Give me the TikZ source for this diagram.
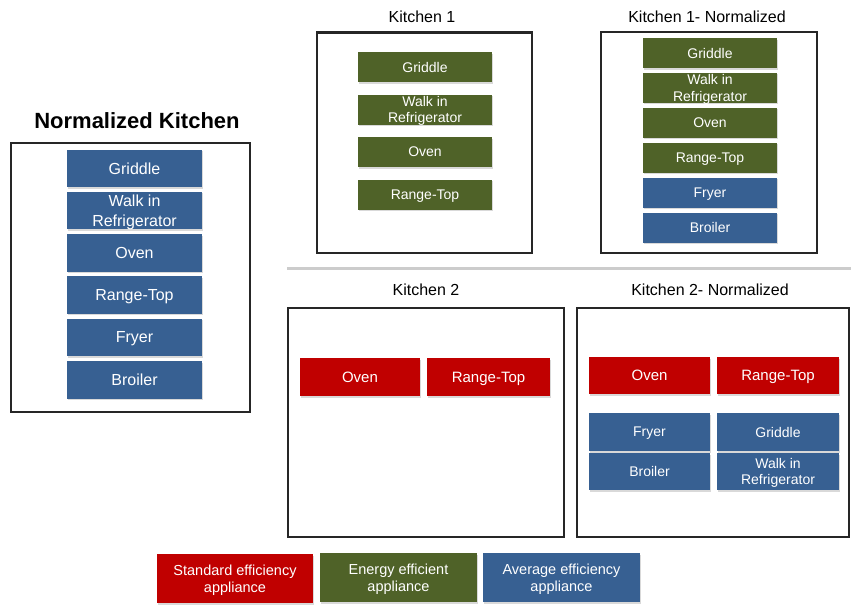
\documentclass[tikz,border=0pt]{standalone}
\usepackage{fontspec}
\setmainfont{Liberation Sans}
\usetikzlibrary{positioning, shadows}
\definecolor{stdred}{HTML}{C00000}
\definecolor{effgreen}{HTML}{4F6228}
\definecolor{avgblue}{HTML}{376092}
\definecolor{framegray}{HTML}{262626}

\begin{document}
\begin{tikzpicture}[
        x=1pt, y=-1pt,
        kitchen/.style = {rectangle, draw=framegray, line width=2.2pt, anchor=north west, inner sep=0pt, outer sep=0pt},
        appliance/.style = {rectangle, text=white, align=center, inner sep=0pt, outer sep=0pt, text depth=0pt, anchor=north west, font=\fontsize{14}{16.5}\selectfont, drop shadow={shadow xshift=1pt, shadow yshift=-1.5pt, opacity=0.3}},
        standard/.style = {appliance, fill=stdred, font=\fontsize{15}{17}\selectfont},
        efficient/.style = {appliance, fill=effgreen},
        average/.style = {appliance, fill=avgblue},
        heading/.style = {font=\fontsize{16}{19}\selectfont},
        sep_line/.style = {draw=black!20, line width=3pt}
    ]
    \useasboundingbox (0,0) rectangle (851,605);

    % Normalized kitchen (left)
    \node [font=\fontsize{22}{24}\selectfont\bfseries] (nk_title) at (137,121) {Normalized Kitchen};
    \node [kitchen, minimum width=239pt, minimum height=269pt] (nk) at (11,143) {};
    \node [average, minimum width=135pt, minimum height=37.5pt, font=\fontsize{16}{20}\selectfont] (nk_griddle) at (67,149.5) {Griddle};
    \node [average, minimum width=135pt, minimum height=37.5pt, font=\fontsize{16}{20}\selectfont, below=4.8pt of nk_griddle] (nk_walk) {Walk in\\Refrigerator};
    \node [average, minimum width=135pt, minimum height=37.5pt, font=\fontsize{16}{20}\selectfont, below=4.8pt of nk_walk] (nk_oven) {Oven};
    \node [average, minimum width=135pt, minimum height=37.5pt, font=\fontsize{16}{20}\selectfont, below=4.8pt of nk_oven] (nk_range) {Range-Top};
    \node [average, minimum width=135pt, minimum height=37.5pt, font=\fontsize{16}{20}\selectfont, below=4.8pt of nk_range] (nk_fryer) {Fryer};
    \node [average, minimum width=135pt, minimum height=37.5pt, font=\fontsize{16}{20}\selectfont, below=4.8pt of nk_fryer] (nk_broiler) {Broiler};

    % Kitchen 1
    \node [heading] (k1_title) at (422,17) {Kitchen 1};
    \node [kitchen, minimum width=215pt, minimum height=220.5pt] (k1) at (317,32.5) {};
    \node [efficient, minimum width=134pt, minimum height=30pt] (k1_griddle) at (358,52) {Griddle};
    \node [efficient, minimum width=134pt, minimum height=30pt, below=12.5pt of k1_griddle] (k1_walk) {Walk in\\Refrigerator};
    \node [efficient, minimum width=134pt, minimum height=30pt, below=12.5pt of k1_walk] (k1_oven) {Oven};
    \node [efficient, minimum width=134pt, minimum height=30pt, below=12.5pt of k1_oven] (k1_range) {Range-Top};

    % Kitchen 1 normalized
    \node [heading] (k1n_title) at (707,17) {Kitchen 1- Normalized};
    \node [kitchen, minimum width=216pt, minimum height=221pt] (k1n) at (601,32) {};
    \node [efficient, minimum width=134pt, minimum height=30pt] (k1n_griddle) at (643,38) {Griddle};
    \node [efficient, minimum width=134pt, minimum height=30pt, below=4.9pt of k1n_griddle] (k1n_walk) {Walk in\\Refrigerator};
    \node [efficient, minimum width=134pt, minimum height=30pt, below=4.9pt of k1n_walk] (k1n_oven) {Oven};
    \node [efficient, minimum width=134pt, minimum height=30pt, below=4.9pt of k1n_oven] (k1n_range) {Range-Top};
    \node [average, minimum width=134pt, minimum height=30pt, below=4.9pt of k1n_range] (k1n_fryer) {Fryer};
    \node [average, minimum width=134pt, minimum height=30pt, below=4.9pt of k1n_fryer] (k1n_broiler) {Broiler};

    % Separator
    \coordinate (sep_left) at (287,268);
    \coordinate (sep_right) at (851,268);
    \path [sep_line] (sep_left) -- (sep_right);

    % Kitchen 2
    \node [heading] (k2_title) at (426,290) {Kitchen 2};
    \node [kitchen, minimum width=276pt, minimum height=229pt] (k2) at (288,308) {};
    \node [standard, minimum width=120pt, minimum height=38pt] (k2_oven) at (300,358) {Oven};
    \node [standard, minimum width=123pt, minimum height=38pt, right=7pt of k2_oven] (k2_range) {Range-Top};

    % Kitchen 2 normalized
    \node [heading] (k2n_title) at (710,290) {Kitchen 2- Normalized};
    \node [kitchen, minimum width=272pt, minimum height=229pt] (k2n) at (577,308) {};
    \node [standard, minimum width=121pt, minimum height=37pt] (k2n_oven) at (589,357) {Oven};
    \node [standard, minimum width=122pt, minimum height=37pt, right=7pt of k2n_oven] (k2n_range) {Range-Top};
    \node [average, minimum width=121pt, minimum height=38pt, below=19pt of k2n_oven] (k2n_fryer) {Fryer};
    \node [average, minimum width=121pt, minimum height=37pt, below=2pt of k2n_fryer] (k2n_broiler) {Broiler};
    \node [average, minimum width=122pt, minimum height=38pt, below=19pt of k2n_range] (k2n_griddle) {Griddle};
    \node [average, minimum width=122pt, minimum height=37pt, below=2pt of k2n_griddle] (k2n_walk) {Walk in\\Refrigerator};

    % Legend
    \node [standard, minimum width=156pt, minimum height=49pt, font=\fontsize{14.5}{17.5}\selectfont] (leg_std) at (157,554) {Standard efficiency\\appliance};
    \node [efficient, minimum width=157pt, minimum height=49pt, font=\fontsize{14.5}{17.5}\selectfont] (leg_eff) at (320,553) {Energy efficient\\appliance};
    \node [average, minimum width=157pt, minimum height=49pt, font=\fontsize{14.5}{17.5}\selectfont, right=6pt of leg_eff] (leg_avg) {Average efficiency\\appliance};

\end{tikzpicture}
\end{document}
